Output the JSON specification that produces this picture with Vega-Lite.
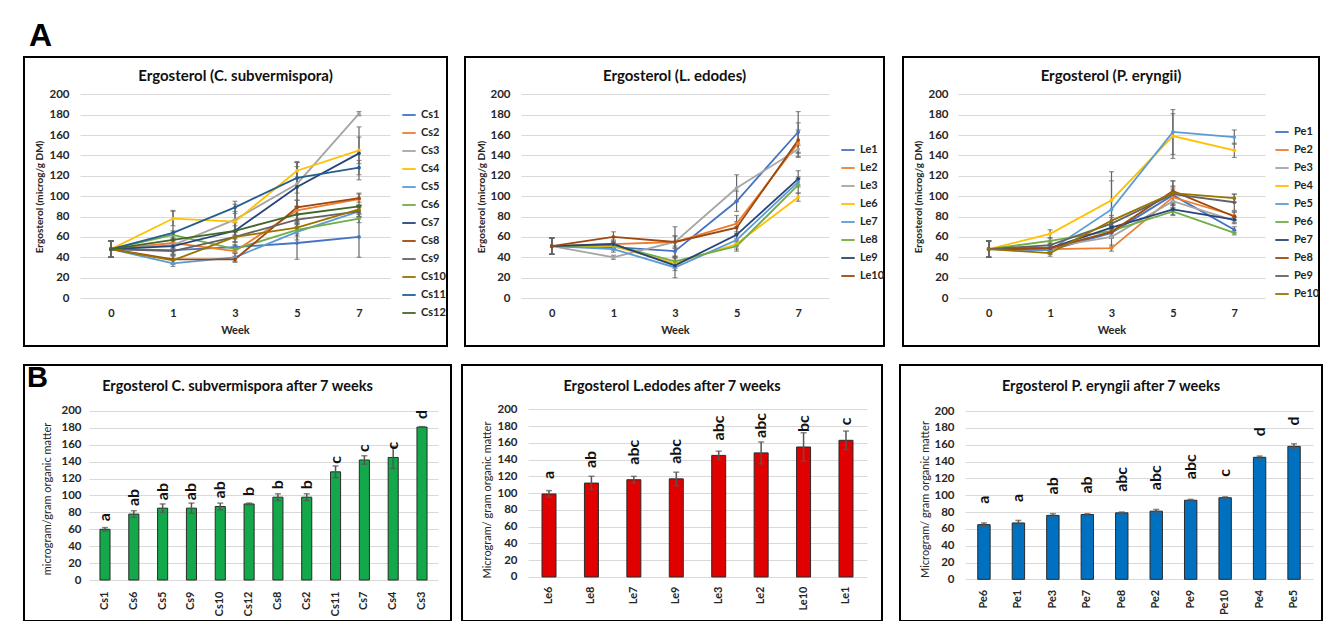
{
  "$schema": "https://vega.github.io/schema/vega-lite/v6.json",
  "padding": {"top": 20, "left": 23, "right": 0, "bottom": 0},
  "background": "white",
  "spacing": 17,
  "config": {
    "font": "Lato",
    "view": {"stroke": "black", "strokeWidth": 2},
    "axis": {"gridColor": "#d9d9d9", "gridWidth": 1, "labelColor": "#262626", "titleColor": "#262626", "ticks": false, "domain": false},
    "legend": {"labelFontSize": 11, "labelFontWeight": "bold", "labelColor": "#262626", "symbolType": "stroke", "symbolSize": 180, "symbolStrokeWidth": 1.8, "rowPadding": 5, "labelOffset": 4, "title": null}
  },
  "datasets": {
    "lines": [
      {"panel":"Cs","strain":"Cs1","week":0,"value":48,"err":8},{"panel":"Cs","strain":"Cs1","week":1,"value":47,"err":4},{"panel":"Cs","strain":"Cs1","week":3,"value":50,"err":5},{"panel":"Cs","strain":"Cs1","week":5,"value":54,"err":16},{"panel":"Cs","strain":"Cs1","week":7,"value":60,"err":20},
      {"panel":"Cs","strain":"Cs2","week":0,"value":48,"err":8},{"panel":"Cs","strain":"Cs2","week":1,"value":54,"err":5},{"panel":"Cs","strain":"Cs2","week":3,"value":46,"err":6},{"panel":"Cs","strain":"Cs2","week":5,"value":86,"err":10},{"panel":"Cs","strain":"Cs2","week":7,"value":97,"err":6},
      {"panel":"Cs","strain":"Cs3","week":0,"value":48,"err":8},{"panel":"Cs","strain":"Cs3","week":1,"value":52,"err":5},{"panel":"Cs","strain":"Cs3","week":3,"value":77,"err":15},{"panel":"Cs","strain":"Cs3","week":5,"value":112,"err":22},{"panel":"Cs","strain":"Cs3","week":7,"value":181,"err":2},
      {"panel":"Cs","strain":"Cs4","week":0,"value":48,"err":8},{"panel":"Cs","strain":"Cs4","week":1,"value":78,"err":7},{"panel":"Cs","strain":"Cs4","week":3,"value":75,"err":10},{"panel":"Cs","strain":"Cs4","week":5,"value":125,"err":8},{"panel":"Cs","strain":"Cs4","week":7,"value":145,"err":13},
      {"panel":"Cs","strain":"Cs5","week":0,"value":48,"err":8},{"panel":"Cs","strain":"Cs5","week":1,"value":34,"err":3},{"panel":"Cs","strain":"Cs5","week":3,"value":40,"err":4},{"panel":"Cs","strain":"Cs5","week":5,"value":65,"err":8},{"panel":"Cs","strain":"Cs5","week":7,"value":85,"err":5},
      {"panel":"Cs","strain":"Cs6","week":0,"value":48,"err":8},{"panel":"Cs","strain":"Cs6","week":1,"value":62,"err":4},{"panel":"Cs","strain":"Cs6","week":3,"value":48,"err":4},{"panel":"Cs","strain":"Cs6","week":5,"value":67,"err":6},{"panel":"Cs","strain":"Cs6","week":7,"value":78,"err":4},
      {"panel":"Cs","strain":"Cs7","week":0,"value":48,"err":8},{"panel":"Cs","strain":"Cs7","week":1,"value":51,"err":5},{"panel":"Cs","strain":"Cs7","week":3,"value":66,"err":8},{"panel":"Cs","strain":"Cs7","week":5,"value":109,"err":20},{"panel":"Cs","strain":"Cs7","week":7,"value":142,"err":26},
      {"panel":"Cs","strain":"Cs8","week":0,"value":48,"err":8},{"panel":"Cs","strain":"Cs8","week":1,"value":38,"err":4},{"panel":"Cs","strain":"Cs8","week":3,"value":38,"err":3},{"panel":"Cs","strain":"Cs8","week":5,"value":89,"err":7},{"panel":"Cs","strain":"Cs8","week":7,"value":98,"err":4},
      {"panel":"Cs","strain":"Cs9","week":0,"value":48,"err":8},{"panel":"Cs","strain":"Cs9","week":1,"value":46,"err":3},{"panel":"Cs","strain":"Cs9","week":3,"value":60,"err":5},{"panel":"Cs","strain":"Cs9","week":5,"value":77,"err":5},{"panel":"Cs","strain":"Cs9","week":7,"value":85,"err":6},
      {"panel":"Cs","strain":"Cs10","week":0,"value":48,"err":8},{"panel":"Cs","strain":"Cs10","week":1,"value":37,"err":4},{"panel":"Cs","strain":"Cs10","week":3,"value":60,"err":5},{"panel":"Cs","strain":"Cs10","week":5,"value":69,"err":6},{"panel":"Cs","strain":"Cs10","week":7,"value":87,"err":4},
      {"panel":"Cs","strain":"Cs11","week":0,"value":48,"err":8},{"panel":"Cs","strain":"Cs11","week":1,"value":64,"err":22},{"panel":"Cs","strain":"Cs11","week":3,"value":89,"err":6},{"panel":"Cs","strain":"Cs11","week":5,"value":118,"err":15},{"panel":"Cs","strain":"Cs11","week":7,"value":128,"err":7},
      {"panel":"Cs","strain":"Cs12","week":0,"value":48,"err":8},{"panel":"Cs","strain":"Cs12","week":1,"value":57,"err":4},{"panel":"Cs","strain":"Cs12","week":3,"value":66,"err":5},{"panel":"Cs","strain":"Cs12","week":5,"value":82,"err":8},{"panel":"Cs","strain":"Cs12","week":7,"value":90,"err":1},
      {"panel":"Le","strain":"Le1","week":0,"value":51,"err":8},{"panel":"Le","strain":"Le1","week":1,"value":50,"err":3},{"panel":"Le","strain":"Le1","week":3,"value":46,"err":5},{"panel":"Le","strain":"Le1","week":5,"value":95,"err":10},{"panel":"Le","strain":"Le1","week":7,"value":163,"err":20},
      {"panel":"Le","strain":"Le2","week":0,"value":51,"err":8},{"panel":"Le","strain":"Le2","week":1,"value":53,"err":4},{"panel":"Le","strain":"Le2","week":3,"value":55,"err":6},{"panel":"Le","strain":"Le2","week":5,"value":73,"err":8},{"panel":"Le","strain":"Le2","week":7,"value":152,"err":13},
      {"panel":"Le","strain":"Le3","week":0,"value":51,"err":8},{"panel":"Le","strain":"Le3","week":1,"value":40,"err":2},{"panel":"Le","strain":"Le3","week":3,"value":55,"err":15},{"panel":"Le","strain":"Le3","week":5,"value":108,"err":13},{"panel":"Le","strain":"Le3","week":7,"value":146,"err":4},
      {"panel":"Le","strain":"Le6","week":0,"value":51,"err":8},{"panel":"Le","strain":"Le6","week":1,"value":51,"err":3},{"panel":"Le","strain":"Le6","week":3,"value":34,"err":5},{"panel":"Le","strain":"Le6","week":5,"value":53,"err":5},{"panel":"Le","strain":"Le6","week":7,"value":99,"err":4},
      {"panel":"Le","strain":"Le7","week":0,"value":51,"err":8},{"panel":"Le","strain":"Le7","week":1,"value":48,"err":3},{"panel":"Le","strain":"Le7","week":3,"value":30,"err":10},{"panel":"Le","strain":"Le7","week":5,"value":57,"err":6},{"panel":"Le","strain":"Le7","week":7,"value":114,"err":3},
      {"panel":"Le","strain":"Le8","week":0,"value":51,"err":8},{"panel":"Le","strain":"Le8","week":1,"value":52,"err":3},{"panel":"Le","strain":"Le8","week":3,"value":36,"err":5},{"panel":"Le","strain":"Le8","week":5,"value":51,"err":5},{"panel":"Le","strain":"Le8","week":7,"value":111,"err":8},
      {"panel":"Le","strain":"Le9","week":0,"value":51,"err":8},{"panel":"Le","strain":"Le9","week":1,"value":53,"err":3},{"panel":"Le","strain":"Le9","week":3,"value":32,"err":5},{"panel":"Le","strain":"Le9","week":5,"value":62,"err":8},{"panel":"Le","strain":"Le9","week":7,"value":117,"err":8},
      {"panel":"Le","strain":"Le10","week":0,"value":51,"err":8},{"panel":"Le","strain":"Le10","week":1,"value":60,"err":5},{"panel":"Le","strain":"Le10","week":3,"value":55,"err":6},{"panel":"Le","strain":"Le10","week":5,"value":69,"err":6},{"panel":"Le","strain":"Le10","week":7,"value":155,"err":17},
      {"panel":"Pe","strain":"Pe1","week":0,"value":48,"err":8},{"panel":"Pe","strain":"Pe1","week":1,"value":47,"err":3},{"panel":"Pe","strain":"Pe1","week":3,"value":64,"err":5},{"panel":"Pe","strain":"Pe1","week":5,"value":101,"err":8},{"panel":"Pe","strain":"Pe1","week":7,"value":67,"err":3},
      {"panel":"Pe","strain":"Pe2","week":0,"value":48,"err":8},{"panel":"Pe","strain":"Pe2","week":1,"value":48,"err":2},{"panel":"Pe","strain":"Pe2","week":3,"value":49,"err":3},{"panel":"Pe","strain":"Pe2","week":5,"value":99,"err":8},{"panel":"Pe","strain":"Pe2","week":7,"value":81,"err":4},
      {"panel":"Pe","strain":"Pe3","week":0,"value":48,"err":8},{"panel":"Pe","strain":"Pe3","week":1,"value":50,"err":3},{"panel":"Pe","strain":"Pe3","week":3,"value":60,"err":10},{"panel":"Pe","strain":"Pe3","week":5,"value":95,"err":7},{"panel":"Pe","strain":"Pe3","week":7,"value":76,"err":3},
      {"panel":"Pe","strain":"Pe4","week":0,"value":48,"err":8},{"panel":"Pe","strain":"Pe4","week":1,"value":63,"err":4},{"panel":"Pe","strain":"Pe4","week":3,"value":96,"err":28},{"panel":"Pe","strain":"Pe4","week":5,"value":159,"err":22},{"panel":"Pe","strain":"Pe4","week":7,"value":145,"err":7},
      {"panel":"Pe","strain":"Pe5","week":0,"value":48,"err":8},{"panel":"Pe","strain":"Pe5","week":1,"value":47,"err":4},{"panel":"Pe","strain":"Pe5","week":3,"value":87,"err":28},{"panel":"Pe","strain":"Pe5","week":5,"value":163,"err":22},{"panel":"Pe","strain":"Pe5","week":7,"value":158,"err":7},
      {"panel":"Pe","strain":"Pe6","week":0,"value":48,"err":8},{"panel":"Pe","strain":"Pe6","week":1,"value":56,"err":3},{"panel":"Pe","strain":"Pe6","week":3,"value":66,"err":5},{"panel":"Pe","strain":"Pe6","week":5,"value":85,"err":4},{"panel":"Pe","strain":"Pe6","week":7,"value":64,"err":2},
      {"panel":"Pe","strain":"Pe7","week":0,"value":48,"err":8},{"panel":"Pe","strain":"Pe7","week":1,"value":49,"err":3},{"panel":"Pe","strain":"Pe7","week":3,"value":69,"err":5},{"panel":"Pe","strain":"Pe7","week":5,"value":87,"err":5},{"panel":"Pe","strain":"Pe7","week":7,"value":77,"err":3},
      {"panel":"Pe","strain":"Pe8","week":0,"value":48,"err":8},{"panel":"Pe","strain":"Pe8","week":1,"value":49,"err":3},{"panel":"Pe","strain":"Pe8","week":3,"value":65,"err":5},{"panel":"Pe","strain":"Pe8","week":5,"value":105,"err":10},{"panel":"Pe","strain":"Pe8","week":7,"value":80,"err":4},
      {"panel":"Pe","strain":"Pe9","week":0,"value":48,"err":8},{"panel":"Pe","strain":"Pe9","week":1,"value":52,"err":3},{"panel":"Pe","strain":"Pe9","week":3,"value":73,"err":6},{"panel":"Pe","strain":"Pe9","week":5,"value":102,"err":8},{"panel":"Pe","strain":"Pe9","week":7,"value":94,"err":8},
      {"panel":"Pe","strain":"Pe10","week":0,"value":48,"err":8},{"panel":"Pe","strain":"Pe10","week":1,"value":44,"err":3},{"panel":"Pe","strain":"Pe10","week":3,"value":76,"err":5},{"panel":"Pe","strain":"Pe10","week":5,"value":103,"err":12},{"panel":"Pe","strain":"Pe10","week":7,"value":98,"err":4}
    ],
    "bars": [
      {"panel":"Cs","strain":"Cs1","value":60,"err":2,"group":"a"},
      {"panel":"Cs","strain":"Cs6","value":78,"err":4,"group":"ab"},
      {"panel":"Cs","strain":"Cs5","value":85,"err":5,"group":"ab"},
      {"panel":"Cs","strain":"Cs9","value":85,"err":6,"group":"ab"},
      {"panel":"Cs","strain":"Cs10","value":87,"err":4,"group":"ab"},
      {"panel":"Cs","strain":"Cs12","value":90,"err":1,"group":"b"},
      {"panel":"Cs","strain":"Cs8","value":98,"err":4,"group":"b"},
      {"panel":"Cs","strain":"Cs2","value":98,"err":4,"group":"b"},
      {"panel":"Cs","strain":"Cs11","value":128,"err":7,"group":"c"},
      {"panel":"Cs","strain":"Cs7","value":142,"err":5,"group":"c"},
      {"panel":"Cs","strain":"Cs4","value":145,"err":13,"group":"c"},
      {"panel":"Cs","strain":"Cs3","value":181,"err":0.5,"group":"d"},
      {"panel":"Le","strain":"Le6","value":99,"err":4,"group":"a"},
      {"panel":"Le","strain":"Le8","value":112,"err":8,"group":"ab"},
      {"panel":"Le","strain":"Le7","value":116,"err":4,"group":"abc"},
      {"panel":"Le","strain":"Le9","value":117,"err":8,"group":"abc"},
      {"panel":"Le","strain":"Le3","value":145,"err":5,"group":"abc"},
      {"panel":"Le","strain":"Le2","value":148,"err":13,"group":"abc"},
      {"panel":"Le","strain":"Le10","value":155,"err":17,"group":"bc"},
      {"panel":"Le","strain":"Le1","value":163,"err":11,"group":"c"},
      {"panel":"Pe","strain":"Pe6","value":65,"err":2,"group":"a"},
      {"panel":"Pe","strain":"Pe1","value":67,"err":3,"group":"a"},
      {"panel":"Pe","strain":"Pe3","value":76,"err":2,"group":"ab"},
      {"panel":"Pe","strain":"Pe7","value":77,"err":1,"group":"ab"},
      {"panel":"Pe","strain":"Pe8","value":79,"err":1,"group":"abc"},
      {"panel":"Pe","strain":"Pe2","value":81,"err":2,"group":"abc"},
      {"panel":"Pe","strain":"Pe9","value":94,"err":1,"group":"abc"},
      {"panel":"Pe","strain":"Pe10","value":97,"err":1,"group":"c"},
      {"panel":"Pe","strain":"Pe4","value":145,"err":1.5,"group":"d"},
      {"panel":"Pe","strain":"Pe5","value":158,"err":3,"group":"d"}
    ]
  },
  "vconcat": [
    {
      "title": {"text": "A", "anchor": "start", "fontSize": 32, "fontWeight": "bold", "font": "Liberation Sans", "color": "black", "offset": -22, "baseline": "alphabetic", "dx": 6},
      "spacing": 16,
      "resolve": {"scale": {"x": "independent", "y": "independent", "color": "independent"}, "legend": {"color": "independent"}},
      "hconcat": [
        {
          "width": 423, "height": 289,
          "data": {"name": "lines"},
          "transform": [{"filter": "datum.panel == 'Cs'"}],
          "title": {"text": "Ergosterol (C. subvermispora)", "frame": "group", "anchor": "middle", "offset": -34, "baseline": "middle", "fontSize": 15, "fontWeight": "bold", "color": "#111"},
          "encoding": {
            "x": {"field": "week", "type": "ordinal", "scale": {"type": "point", "range": [56, 366], "padding": 0.5},
                  "axis": {"title": "Week", "labelAngle": 0, "offset": -39, "labelPadding": 0, "labelBaseline": "top", "labelFontSize": 11, "labelFontWeight": "bold", "titleFontSize": 11, "titleFontWeight": "bold", "titleY": 23, "titleBaseline": "middle", "grid": false}},
            "y": {"field": "value", "type": "quantitative", "scale": {"domain": [-47.1, 236.6], "nice": false, "zero": false},
                  "axis": {"title": "Ergosterol (microg/g DM)", "values": [0,20,40,60,80,100,120,140,160,180,200], "offset": -47, "labelPadding": 2, "labelFontSize": 11.5, "labelFontWeight": "bold", "titleFontSize": 10, "titleFontWeight": "bold", "titleX": -31.4, "titleY": 139.5, "titleAngle": 270, "titleBaseline": "middle", "titleAlign": "center", "grid": true}}
          },
          "layer": [
            {"mark": {"type": "errorbar", "ticks": {"size": 5}, "color": "#666", "thickness": 1.2}, "encoding": {"yError": {"field": "err"}}},
            {"mark": {"type": "line", "strokeWidth": 1.8, "point": {"size": 14, "filled": true}},
             "encoding": {"color": {"field": "strain", "type": "nominal",
               "scale": {"domain": ["Cs1","Cs2","Cs3","Cs4","Cs5","Cs6","Cs7","Cs8","Cs9","Cs10","Cs11","Cs12"],
                         "range": ["#4472C4","#ED7D31","#A5A5A5","#FFC000","#5B9BD5","#70AD47","#264478","#9E480E","#636363","#997300","#255E91","#43682B"]},
               "legend": {"orient": "none", "legendX": 377, "legendY": 50}}}}
          ]
        },
        {
          "width": 419, "height": 289,
          "data": {"name": "lines"},
          "transform": [{"filter": "datum.panel == 'Le'"}],
          "title": {"text": "Ergosterol (L. edodes)", "frame": "group", "anchor": "middle", "offset": -34, "baseline": "middle", "fontSize": 15, "fontWeight": "bold", "color": "#111"},
          "encoding": {
            "x": {"field": "week", "type": "ordinal", "scale": {"type": "point", "range": [56, 364], "padding": 0.5},
                  "axis": {"title": "Week", "labelAngle": 0, "offset": -39, "labelPadding": 0, "labelBaseline": "top", "labelFontSize": 11, "labelFontWeight": "bold", "titleFontSize": 11, "titleFontWeight": "bold", "titleY": 23, "titleBaseline": "middle", "grid": false}},
            "y": {"field": "value", "type": "quantitative", "scale": {"domain": [-47.1, 236.6], "nice": false, "zero": false},
                  "axis": {"title": "Ergosterol (microg/g DM)", "values": [0,20,40,60,80,100,120,140,160,180,200], "offset": -47, "labelPadding": 2, "labelFontSize": 11.5, "labelFontWeight": "bold", "titleFontSize": 10, "titleFontWeight": "bold", "titleX": -30.5, "titleY": 139.5, "titleAngle": 270, "titleBaseline": "middle", "titleAlign": "center", "grid": true}}
          },
          "layer": [
            {"mark": {"type": "errorbar", "ticks": {"size": 5}, "color": "#666", "thickness": 1.2}, "encoding": {"yError": {"field": "err"}}},
            {"mark": {"type": "line", "strokeWidth": 1.8, "point": {"size": 14, "filled": true}},
             "encoding": {"color": {"field": "strain", "type": "nominal",
               "scale": {"domain": ["Le1","Le2","Le3","Le6","Le7","Le8","Le9","Le10"],
                         "range": ["#4472C4","#ED7D31","#A5A5A5","#FFC000","#5B9BD5","#70AD47","#264478","#9E480E"]},
               "legend": {"orient": "none", "legendX": 375, "legendY": 85}}}}
          ]
        },
        {
          "width": 416, "height": 289,
          "data": {"name": "lines"},
          "transform": [{"filter": "datum.panel == 'Pe'"}],
          "title": {"text": "Ergosterol (P. eryngii)", "frame": "group", "anchor": "middle", "offset": -34, "baseline": "middle", "fontSize": 15, "fontWeight": "bold", "color": "#111"},
          "encoding": {
            "x": {"field": "week", "type": "ordinal", "scale": {"type": "point", "range": [55, 362], "padding": 0.5},
                  "axis": {"title": "Week", "labelAngle": 0, "offset": -39, "labelPadding": 0, "labelBaseline": "top", "labelFontSize": 11, "labelFontWeight": "bold", "titleFontSize": 11, "titleFontWeight": "bold", "titleY": 23, "titleBaseline": "middle", "grid": false}},
            "y": {"field": "value", "type": "quantitative", "scale": {"domain": [-47.1, 236.6], "nice": false, "zero": false},
                  "axis": {"title": "Ergosterol (microg/g DM)", "values": [0,20,40,60,80,100,120,140,160,180,200], "offset": -47, "labelPadding": 2, "labelFontSize": 11.5, "labelFontWeight": "bold", "titleFontSize": 10, "titleFontWeight": "bold", "titleX": -31.5, "titleY": 139.5, "titleAngle": 270, "titleBaseline": "middle", "titleAlign": "center", "grid": true}}
          },
          "layer": [
            {"mark": {"type": "errorbar", "ticks": {"size": 5}, "color": "#666", "thickness": 1.2}, "encoding": {"yError": {"field": "err"}}},
            {"mark": {"type": "line", "strokeWidth": 1.8, "point": {"size": 14, "filled": true}},
             "encoding": {"color": {"field": "strain", "type": "nominal",
               "scale": {"domain": ["Pe1","Pe2","Pe3","Pe4","Pe5","Pe6","Pe7","Pe8","Pe9","Pe10"],
                         "range": ["#4472C4","#ED7D31","#A5A5A5","#FFC000","#5B9BD5","#70AD47","#264478","#9E480E","#636363","#997300"]},
               "legend": {"orient": "none", "legendX": 371, "legendY": 67}}}}
          ]
        }
      ]
    },
    {
      "title": {"text": "B", "anchor": "start", "fontSize": 29, "fontWeight": "bold", "font": "Liberation Sans", "color": "black", "offset": -52, "baseline": "alphabetic", "dx": 4},
      "spacing": 9,
      "resolve": {"scale": {"x": "independent", "y": "independent"}},
      "hconcat": [
        {
          "width": 427, "height": 256,
          "data": {"name": "bars"},
          "transform": [{"filter": "datum.panel == 'Cs'"}],
          "title": {"text": "Ergosterol C. subvermispora after 7 weeks", "frame": "group", "anchor": "middle", "offset": -36, "baseline": "middle", "fontSize": 14.5, "fontWeight": "bold", "color": "#111"},
          "encoding": {
            "x": {"field": "strain", "type": "nominal", "sort": null, "scale": {"range": [65, 414], "paddingInner": 0.65, "paddingOuter": 0.38},
                  "axis": {"title": null, "labelAngle": 270, "labelAlign": "right", "labelBaseline": "middle", "offset": -41, "labelPadding": 11, "labelFontSize": 11, "labelFontWeight": "bold", "grid": false}},
            "y": {"field": "value", "type": "quantitative", "scale": {"domain": [-48.5, 254.4], "nice": false},
                  "axis": {"title": "microgram/gram organic matter", "values": [0,20,40,60,80,100,120,140,160,180,200], "offset": -59, "labelPadding": 2, "labelFontSize": 11.5, "labelFontWeight": "bold", "titleFontSize": 11, "titleFontWeight": "normal", "titleX": -35.3, "titleY": 133.5, "titleAngle": 270, "titleBaseline": "middle", "titleAlign": "center", "grid": true}}
          },
          "layer": [
            {"mark": {"type": "bar", "color": "#13A84A", "stroke": "#2b2b2b", "strokeWidth": 1}},
            {"mark": {"type": "errorbar", "ticks": {"size": 6}, "color": "#555", "thickness": 1.5}, "encoding": {"yError": {"field": "err"}}},
            {"mark": {"type": "text", "angle": 270, "align": "left", "baseline": "middle", "dx": 8, "fontSize": 16, "fontWeight": "bold", "color": "#111"}, "encoding": {"text": {"field": "group"}}}
          ]
        },
        {
          "spacing": 16,
          "resolve": {"scale": {"x": "independent", "y": "independent"}},
          "hconcat": [
            {
              "width": 420, "height": 256,
              "data": {"name": "bars"},
              "transform": [{"filter": "datum.panel == 'Le'"}],
              "title": {"text": "Ergosterol L.edodes  after 7 weeks", "frame": "group", "anchor": "middle", "offset": -36, "baseline": "middle", "fontSize": 14.5, "fontWeight": "bold", "color": "#111"},
              "encoding": {
                "x": {"field": "strain", "type": "nominal", "sort": null, "scale": {"range": [66, 405], "paddingInner": 0.67, "paddingOuter": 0.33},
                      "axis": {"title": null, "labelAngle": 270, "labelAlign": "right", "labelBaseline": "middle", "offset": -44, "labelPadding": 9, "labelFontSize": 11, "labelFontWeight": "bold", "grid": false}},
                "y": {"field": "value", "type": "quantitative", "scale": {"domain": [-52.5, 252.8], "nice": false},
                      "axis": {"title": "Microgram/ gram organic matter", "values": [0,20,40,60,80,100,120,140,160,180,200], "offset": -57, "labelPadding": 2, "labelFontSize": 11.5, "labelFontWeight": "bold", "titleFontSize": 11, "titleFontWeight": "normal", "titleX": -32, "titleY": 134.5, "titleAngle": 270, "titleBaseline": "middle", "titleAlign": "center", "grid": true}}
              },
              "layer": [
                {"mark": {"type": "bar", "color": "#E00000", "stroke": "#2b2b2b", "strokeWidth": 1}},
                {"mark": {"type": "errorbar", "ticks": {"size": 6}, "color": "#555", "thickness": 1.5}, "encoding": {"yError": {"field": "err"}}},
                {"mark": {"type": "text", "angle": 270, "align": "left", "baseline": "middle", "dx": 15, "fontSize": 16, "fontWeight": "bold", "color": "#111"}, "encoding": {"text": {"field": "group"}}}
              ]
            },
            {
              "width": 422, "height": 256,
              "data": {"name": "bars"},
              "transform": [{"filter": "datum.panel == 'Pe'"}],
              "title": {"text": "Ergosterol P. eryngii after 7 weeks", "frame": "group", "anchor": "middle", "offset": -36, "baseline": "middle", "fontSize": 14.5, "fontWeight": "bold", "color": "#111"},
              "encoding": {
                "x": {"field": "strain", "type": "nominal", "sort": null, "scale": {"range": [65, 413], "paddingInner": 0.64, "paddingOuter": 0.37},
                      "axis": {"title": null, "labelAngle": 270, "labelAlign": "right", "labelBaseline": "middle", "offset": -41.7, "labelPadding": 10, "labelFontSize": 11, "labelFontWeight": "bold", "grid": false}},
                "y": {"field": "value", "type": "quantitative", "scale": {"domain": [-49.5, 254.7], "nice": false},
                      "axis": {"title": "Microgram/ gram organic matter", "values": [0,20,40,60,80,100,120,140,160,180,200], "offset": -56, "labelPadding": 2, "labelFontSize": 11.5, "labelFontWeight": "bold", "titleFontSize": 11, "titleFontWeight": "normal", "titleX": -31, "titleY": 134, "titleAngle": 270, "titleBaseline": "middle", "titleAlign": "center", "grid": true}}
              },
              "layer": [
                {"mark": {"type": "bar", "color": "#0070C0", "stroke": "#2b2b2b", "strokeWidth": 1}},
                {"mark": {"type": "errorbar", "ticks": {"size": 6}, "color": "#555", "thickness": 1.5}, "encoding": {"yError": {"field": "err"}}},
                {"mark": {"type": "text", "angle": 270, "align": "left", "baseline": "middle", "dx": 21, "fontSize": 16, "fontWeight": "bold", "color": "#111"}, "encoding": {"text": {"field": "group"}}}
              ]
            }
          ]
        }
      ]
    }
  ]
}
